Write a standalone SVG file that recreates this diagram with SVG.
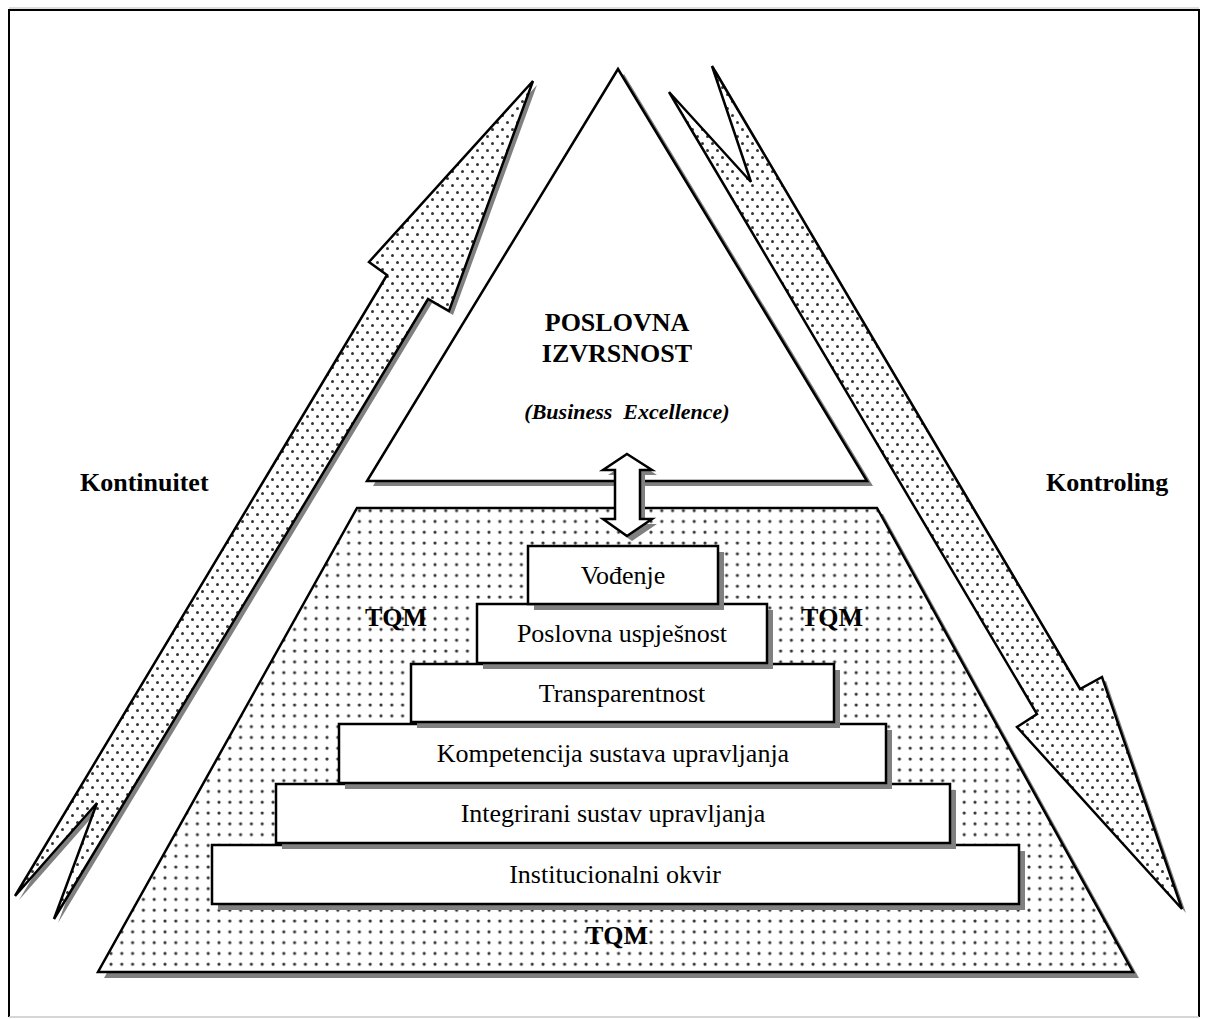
<svg xmlns="http://www.w3.org/2000/svg" width="1206" height="1019" viewBox="0 0 1206 1019">
<style>
.sh{fill:#808080;stroke:none}
.ol{stroke:#000;stroke-width:2.5;stroke-linejoin:miter}
.box{fill:#fff;stroke:#000;stroke-width:2.5}
.t{font-family:"Liberation Serif","Times New Roman",serif;font-size:26px;fill:#000;text-anchor:middle}
.b{font-family:"Liberation Serif","Times New Roman",serif;font-size:26px;font-weight:bold;fill:#000}
</style>
<defs>
<pattern id="dotsA" width="10" height="14" patternUnits="userSpaceOnUse">
<rect width="10" height="14" fill="#fff"/>
<circle cx="2.5" cy="3.5" r="1.5" fill="#333"/>
<circle cx="7.5" cy="10.5" r="1.5" fill="#333"/>
</pattern>
<pattern id="dotsT" width="10.8" height="10.8" patternUnits="userSpaceOnUse">
<rect width="10.8" height="10.8" fill="#fff"/>
<circle cx="3" cy="3" r="1.6" fill="#333"/>
</pattern>
</defs>
<rect width="1206" height="1019" fill="#fff"/>
<g id="frame">
<line x1="9" y1="8" x2="1199" y2="8" stroke="#bbb" stroke-width="1"/>
<line x1="9" y1="10" x2="1199" y2="10" stroke="#000" stroke-width="2"/>
<line x1="9" y1="9" x2="9" y2="1017" stroke="#000" stroke-width="2"/>
<line x1="1199" y1="9" x2="1199" y2="1017" stroke="#000" stroke-width="2"/>
<line x1="9" y1="1017" x2="1199" y2="1017" stroke="#c8c8c8" stroke-width="1.5"/>
</g>
<g id="arrow-kontinuitet">
<polygon class="sh" transform="translate(4,4)" points="533,81 449,311 428,299 54,919 97,803 15,896 387,275 369,262"/>
<polygon class="ol" fill="url(#dotsA)" points="533,81 449,311 428,299 54,919 97,803 15,896 387,275 369,262"/>
</g>
<g id="arrow-kontroling">
<polygon class="sh" transform="translate(4,4)" points="712,66 1080,689 1102,677 1182,909 1017,727 1037,714 669,92 751,182"/>
<polygon class="ol" fill="url(#dotsA)" points="712,66 1080,689 1102,677 1182,909 1017,727 1037,714 669,92 751,182"/>
</g>
<g id="triangle">
<polygon class="sh" transform="translate(6,5)" points="618,69 367,481 867,481"/>
<polygon class="ol" fill="#fff" points="618,69 367,481 867,481"/>
</g>
<g id="trapezoid">
<polygon class="sh" transform="translate(6,6)" points="357,508 877,508 1133,972 98,972"/>
<polygon class="ol" fill="url(#dotsT)" points="357,508 877,508 1133,972 98,972"/>
</g>
<g id="connectors">
<polygon class="sh" transform="translate(5,5)" points="627,454 652,470 640,470 640,519 652,519 627,536 603,519 615,519 615,470 603,470"/>
<polygon class="ol" fill="#fff" points="627,454 652,470 640,470 640,519 652,519 627,536 603,519 615,519 615,470 603,470"/>
</g>
<g id="box-institucionalni">
<rect class="sh" x="218" y="851" width="807" height="59"/>
<rect class="box" x="212" y="845" width="807" height="59"/>
<text class="t" x="615" y="883">Institucionalni okvir</text>
</g>
<g id="box-integrirani">
<rect class="sh" x="282" y="790" width="674" height="59"/>
<rect class="box" x="276" y="784" width="674" height="59"/>
<text class="t" x="613" y="822">Integrirani sustav upravljanja</text>
</g>
<g id="box-kompetencija">
<rect class="sh" x="345" y="730" width="547" height="59"/>
<rect class="box" x="339" y="724" width="547" height="59"/>
<text class="t" x="613" y="762">Kompetencija sustava upravljanja</text>
</g>
<g id="box-transparentnost">
<rect class="sh" x="417" y="670" width="423" height="58"/>
<rect class="box" x="411" y="664" width="423" height="58"/>
<text class="t" x="622" y="702">Transparentnost</text>
</g>
<g id="box-uspjesnost">
<rect class="sh" x="483" y="610" width="290" height="59"/>
<rect class="box" x="477" y="604" width="290" height="59"/>
<text class="t" x="622" y="642">Poslovna uspješnost</text>
</g>
<g id="box-vodenje">
<rect class="sh" x="534" y="552" width="190" height="58"/>
<rect class="box" x="528" y="546" width="190" height="58"/>
<text class="t" x="623" y="584">Vođenje</text>
</g>
<g id="labels">
<text class="b" x="617" y="331" text-anchor="middle">POSLOVNA</text>
<text class="b" x="617" y="362" text-anchor="middle">IZVRSNOST</text>
<text class="b" x="627" y="419" text-anchor="middle" style="font-style:italic;font-size:22px;white-space:pre">(Business  Excellence)</text>
<text class="b" x="80" y="491">Kontinuitet</text>
<text class="b" x="1046" y="491">Kontroling</text>
<text class="b" x="396" y="626" text-anchor="middle">TQM</text>
<text class="b" x="832" y="626" text-anchor="middle">TQM</text>
<text class="b" x="617" y="944" text-anchor="middle">TQM</text>
</g>
</svg>
